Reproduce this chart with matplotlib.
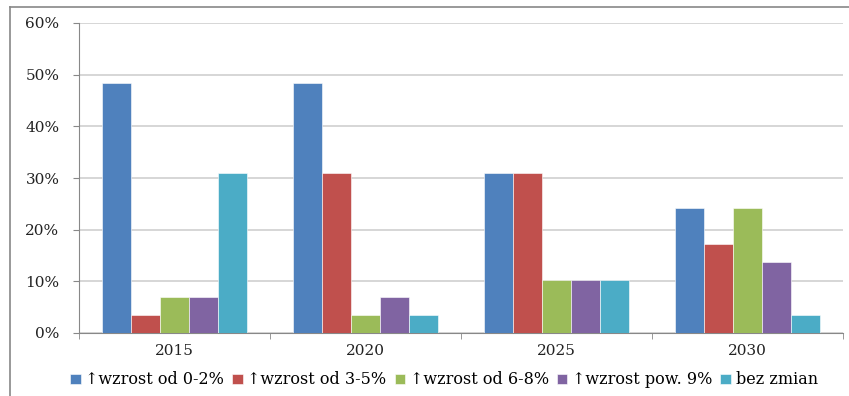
import numpy as np
import matplotlib
matplotlib.use("Agg")
import matplotlib.pyplot as plt
from matplotlib.lines import Line2D

# survey shares per horizon year
years = ["2015", "2020", "2025", "2030"]
series_names = ["\u2191wzrost od 0-2%", "\u2191wzrost od 3-5%",
                "\u2191wzrost od 6-8%", "\u2191wzrost pow. 9%", "bez zmian"]
wzrost_0_2 = [48.3, 48.3, 31.0, 24.1]
wzrost_3_5 = [3.4, 31.0, 31.0, 17.2]
wzrost_6_8 = [6.9, 3.4, 10.3, 24.1]
wzrost_pow_9 = [6.9, 6.9, 10.3, 13.8]
bez_zmian = [31.0, 3.4, 10.3, 3.4]

series = [wzrost_0_2, wzrost_3_5, wzrost_6_8, wzrost_pow_9, bez_zmian]
colors = ["#4F81BD", "#C0504D", "#9BBB59", "#8064A2", "#4BACC6"]

plt.rcParams["font.family"] = ["DejaVu Serif"]

W, H = 849, 396
fig = plt.figure(figsize=(W / 100, H / 100), dpi=100)
ax = fig.add_axes([79 / W, 1 - 333 / H, (843 - 79) / W, (333 - 23) / H])

n = len(series)
group_w = 0.764
bw = group_w / n
x = np.arange(len(years))
for i, (vals, c, name) in enumerate(zip(series, colors, series_names)):
    pos = x - group_w / 2 + bw * (i + 0.5)
    ax.bar(pos, vals, width=bw, color=c, edgecolor="white", linewidth=0.4,
           label=name, zorder=3)

ax.set_xlim(-0.5, len(years) - 0.5)
ax.set_ylim(0, 60)
ax.set_yticks(np.arange(0, 61, 10))
ax.set_yticklabels([f"{v}%" for v in range(0, 61, 10)], fontsize=11, color="#222222")
ax.yaxis.grid(True, color="#D0D0D0", linewidth=1.2, zorder=0)

ax.set_xticks(x)
ax.set_xticklabels(years, fontsize=11, color="#222222")
ax.tick_params(axis="x", length=0, pad=8)
ax.tick_params(axis="y", length=4, color="#888888", direction="out", pad=10)
# category boundary ticks
ax.set_xticks(np.arange(-0.5, len(years), 1), minor=True)
ax.tick_params(axis="x", which="minor", length=4, color="#888888", direction="out")

for side in ["top", "right"]:
    ax.spines[side].set_visible(False)
ax.spines["left"].set_color("#888888")
ax.spines["bottom"].set_color("#888888")

leg = fig.legend(loc="center", bbox_to_anchor=(444 / W, 1 - 380 / H), ncol=5,
                 frameon=False, fontsize=11.5, handlelength=0.65, handleheight=0.65,
                 handletextpad=0.3, columnspacing=0.5)

# outer frame (top and left edges)
fig.add_artist(Line2D([10 / W, 1], [1 - 7 / H, 1 - 7 / H], color="#888888", lw=1.2,
                      transform=fig.transFigure))
fig.add_artist(Line2D([10 / W, 10 / W], [0, 1 - 7 / H], color="#888888", lw=1.2,
                      transform=fig.transFigure))

fig.savefig("out.png", dpi=100)
